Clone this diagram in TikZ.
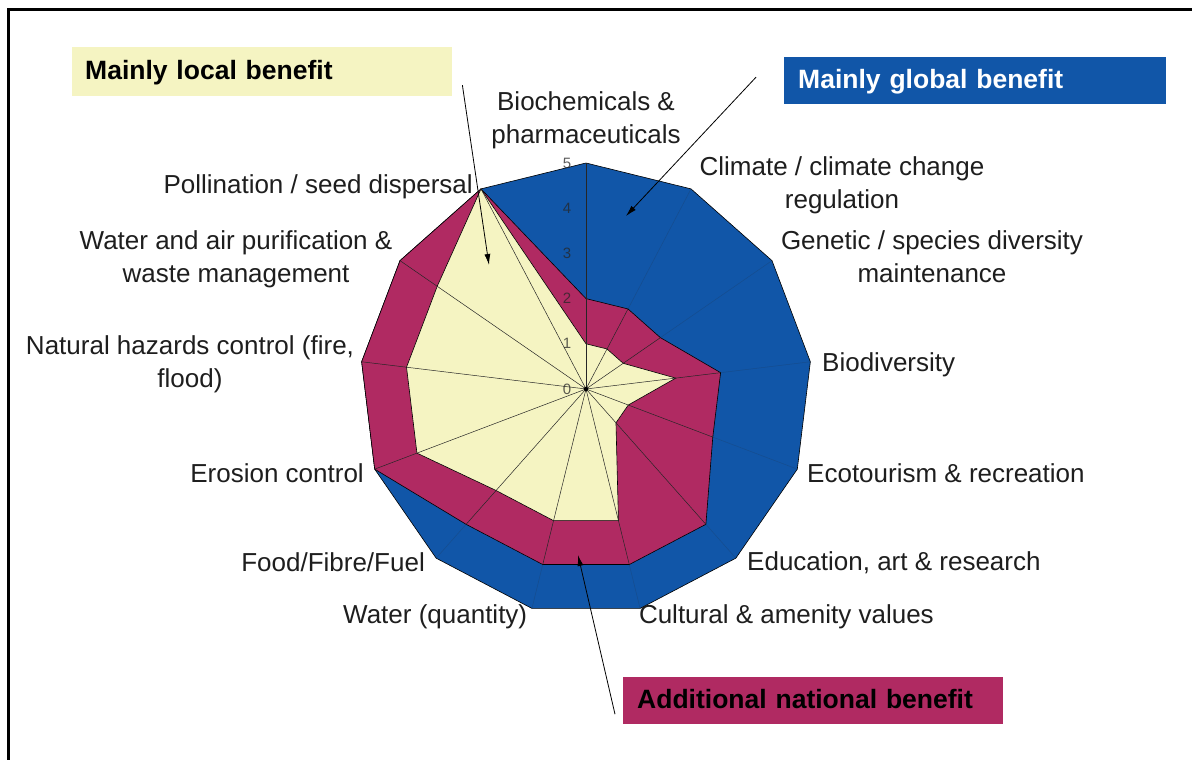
\documentclass[tikz,border=0pt]{standalone}
\usepackage{fontspec}
\setmainfont{Liberation Sans}
\usetikzlibrary{arrows.meta}
\definecolor{globalblue}{RGB}{17,86,168}
\definecolor{nationalred}{RGB}{176,42,98}
\definecolor{localyellow}{RGB}{245,244,194}
\definecolor{inktext}{RGB}{30,30,30}
\begin{document}
\begin{tikzpicture}[x=1pt,y=-1pt,
    lbl/.style={font=\fontsize{26}{33}\selectfont, text=inktext, inner sep=0pt},
    benefit/.style={font=\fontsize{26.5}{33}\bfseries, anchor=north west, inner xsep=14pt,
      inner ysep=0pt, text width=352pt, minimum height=47pt, text height=20pt,
      text depth=4pt, align=left},
    pointer/.style={-{Latex[length=11pt,width=6pt]}, line width=0.8pt},
    spoke/.style={line width=0.5pt, black!85},
    ring/.style={line width=0.6pt, draw=black},
    ticklabel/.style={font=\fontsize{15}{15}\selectfont, text=black!85, text opacity=0.75, inner sep=0pt}]

  \useasboundingbox (0,0) rectangle (1192,760);
  \fill[white] (0,0) rectangle (1192,760);
  \draw[line width=3pt] (8,760) -- (8,10) -- (1192,10);

  % radar: 13 services, scale 0..5
  \begin{scope}[shift={(586,389)}, scale=45.2]
    \filldraw[ring, fill=globalblue] (-90:5)
      \foreach \i in {1,...,12} { -- ({-90+\i*360/13}:5) } -- cycle;
    \filldraw[ring, fill=nationalred] (-90:2)
      \foreach \v [count=\i] in {2,2,3,3,4,4,4,4,5,5,5,5} { -- ({-90+\i*360/13}:\v) } -- cycle;
    \filldraw[ring, fill=localyellow] (-90:1)
      \foreach \v [count=\i] in {1,1,2,1,1,3,3,3,4,4,4,5} { -- ({-90+\i*360/13}:\v) } -- cycle;
    \foreach \v [count=\i from 0] in {2,2,2,3,3,4,4,4,4,5,5,5,5} {
      \draw[spoke] (0,0) -- ({-90+\i*360/13}:\v);
      \draw[spoke, opacity=.2] ({-90+\i*360/13}:\v) -- ({-90+\i*360/13}:5);
    }
    \draw[spoke] (0,0) -- (-90:5);
    \fill (0,0) circle (0.05);
    \foreach \n in {0,...,5}
      \node[ticklabel] (tick\n) at (-0.42,-\n) {\n};
  \end{scope}

  \node[lbl, anchor=base, align=center] (biochem) at (586,143) {Biochemicals \&\\pharmaceuticals};
  \node[lbl, anchor=base, align=center] (climate) at (842,208) {Climate / climate change\\regulation};
  \node[lbl, anchor=base, align=center] (genetic) at (932,282) {Genetic / species diversity\\maintenance};
  \node[lbl, anchor=base west] (biodiv) at (822,371) {Biodiversity};
  \node[lbl, anchor=base west] (ecotour) at (807,482) {Ecotourism \& recreation};
  \node[lbl, anchor=base west] (educ) at (747,570) {Education, art \& research};
  \node[lbl, anchor=base east] (cultural) at (934,623) {Cultural \& amenity values};
  \node[lbl, anchor=base west] (waterq) at (343,623) {Water (quantity)};
  \node[lbl, anchor=base east] (food) at (425,571) {Food/Fibre/Fuel};
  \node[lbl, anchor=base east] (erosion) at (364,482) {Erosion control};
  \node[lbl, anchor=base, align=center] (hazards) at (190,387) {Natural hazards control (fire,\\flood)};
  \node[lbl, anchor=base, align=center] (purif) at (236,282) {Water and air purification \&\\waste management};
  \node[lbl, anchor=base east] (pollin) at (473,193) {Pollination / seed dispersal};

  \node[benefit, fill=localyellow, text=black, inner xsep=13pt, text width=354pt,
    minimum height=49pt] (localbox) at (72,47) {Mainly local benefit};
  \node[benefit, fill=globalblue, text=white, text width=354pt] (globalbox) at (784,57) {Mainly global benefit};
  \node[benefit, fill=nationalred, text=black] (nationalbox) at (623,677) {Additional national benefit};

  \coordinate (localtip) at (489,265);
  \coordinate (globaltip) at (626,216);
  \coordinate (nationaltip) at (578,555);
  \draw[pointer] ([shift={(10,13.5)}]localbox.east) -- (localtip);
  \draw[pointer] ([shift={(-28,-3.5)}]globalbox.west) -- (globaltip);
  \draw[pointer] ([shift={(-8,13.5)}]nationalbox.west) -- (nationaltip);
\end{tikzpicture}
\end{document}
